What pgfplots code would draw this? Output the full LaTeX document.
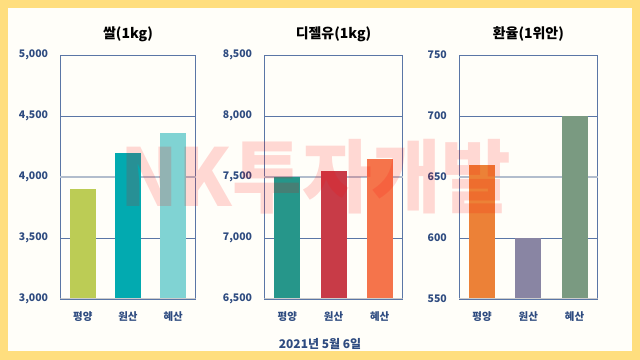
\documentclass[border=0pt]{standalone}
\usepackage{fontspec}
\setmainfont{Noto Sans CJK KR}
\usepackage{pgfplots}
\pgfplotsset{compat=1.18}
\definecolor{bordery}{HTML}{FFDE7E}
\definecolor{bgc}{HTML}{FFFEF9}
\definecolor{tickc}{HTML}{2E4B80}
\definecolor{gridc}{HTML}{5A76A6}
\definecolor{gridl}{HTML}{B2BDCD}
\definecolor{baseg}{HTML}{CCCCCC}
\definecolor{cA1}{HTML}{BCCC55}
\definecolor{cA2}{HTML}{02AAB0}
\definecolor{cA3}{HTML}{80D3D3}
\definecolor{cB1}{HTML}{26968A}
\definecolor{cB2}{HTML}{C83B47}
\definecolor{cB3}{HTML}{F5744B}
\definecolor{cC1}{HTML}{EC8137}
\definecolor{cC2}{HTML}{8985A3}
\definecolor{cC3}{HTML}{7A9A81}
\pgfplotsset{
  panel/.style={
    scale only axis, anchor=south west, height=244bp,
    xmin=-0.5, xmax=2.5, xtick={0,1,2}, xticklabels={평양,원산,혜산},
    ymajorgrids, grid style={color=gridc, line width=0.6pt},
    axis line style={draw=gridc, line width=0.6pt},
    major tick length=0pt, tick style={draw=none},
    /pgf/number format/.cd, 1000 sep={,}, assume math mode=true, /pgfplots/.cd,
    tick label style={font=\fontsize{10.5}{12}\selectfont\bfseries, text=tickc},
    yticklabel style={inner sep=0pt, xshift=-12bp},
    xticklabel style={inner sep=0pt, yshift=-12bp},
    title style={font=\fontsize{14}{16}\selectfont\bfseries, text=black, yshift=4bp},
    extra y tick style={grid style={color=gridl, line width=1.2pt}},
  },
  mybar/.style={ybar, bar width=26bp, draw=none, fill=#1},
}
\begin{document}
\begin{tikzpicture}
\fill[bordery] (0bp,0bp) rectangle (640bp,360bp);
\fill[bgc] (8bp,9bp) rectangle (632bp,352bp);
% Panel 1
\begin{axis}[panel, at={(60.3bp,61bp)}, width=135.4bp, title={쌀(1kg)},
  ymin=3000, ymax=5000, ytick={3000,3500,4500,5000},
  extra y ticks={4000}]
\addplot[mybar=cA1] coordinates {(0,3900)};
\addplot[mybar=cA2] coordinates {(1,4200)};
\addplot[mybar=cA3] coordinates {(2,4360)};
\draw[baseg, line width=1.5pt] (rel axis cs:0,0) -- (rel axis cs:1,0);
\end{axis}
% Panel 2
\begin{axis}[panel, at={(264.3bp,61bp)}, width=138.4bp, title={디젤유(1kg)},
  ymin=6500, ymax=8500, ytick={6500,7000,8000,8500},
  extra y ticks={7500}]
\addplot[mybar=cB1] coordinates {(0,7500)};
\addplot[mybar=cB2] coordinates {(1,7550)};
\addplot[mybar=cB3] coordinates {(2,7650)};
\draw[baseg, line width=1.5pt] (rel axis cs:0,0) -- (rel axis cs:1,0);
\end{axis}
% Panel 3
\begin{axis}[panel, at={(459bp,61bp)}, width=138.7bp, title={환율(1위안)},
  ymin=550, ymax=750, ytick={550,600,700,750},
  extra y ticks={650}]
\addplot[mybar=cC1] coordinates {(0,660)};
\addplot[mybar=cC2] coordinates {(1,600)};
\addplot[mybar=cC3] coordinates {(2,700)};
\draw[baseg, line width=1.5pt] (rel axis cs:0,0) -- (rel axis cs:1,0);
\end{axis}
\node[font=\fontsize{12}{14}\selectfont\bfseries, text=tickc] at (320bp,16bp) {2021년 5월 6일};
\node[font=\fontsize{80}{90}\selectfont\bfseries, text=red, opacity=0.15, xscale=0.95] at (316bp,183bp) {NK투자개발};
\end{tikzpicture}
\end{document}
